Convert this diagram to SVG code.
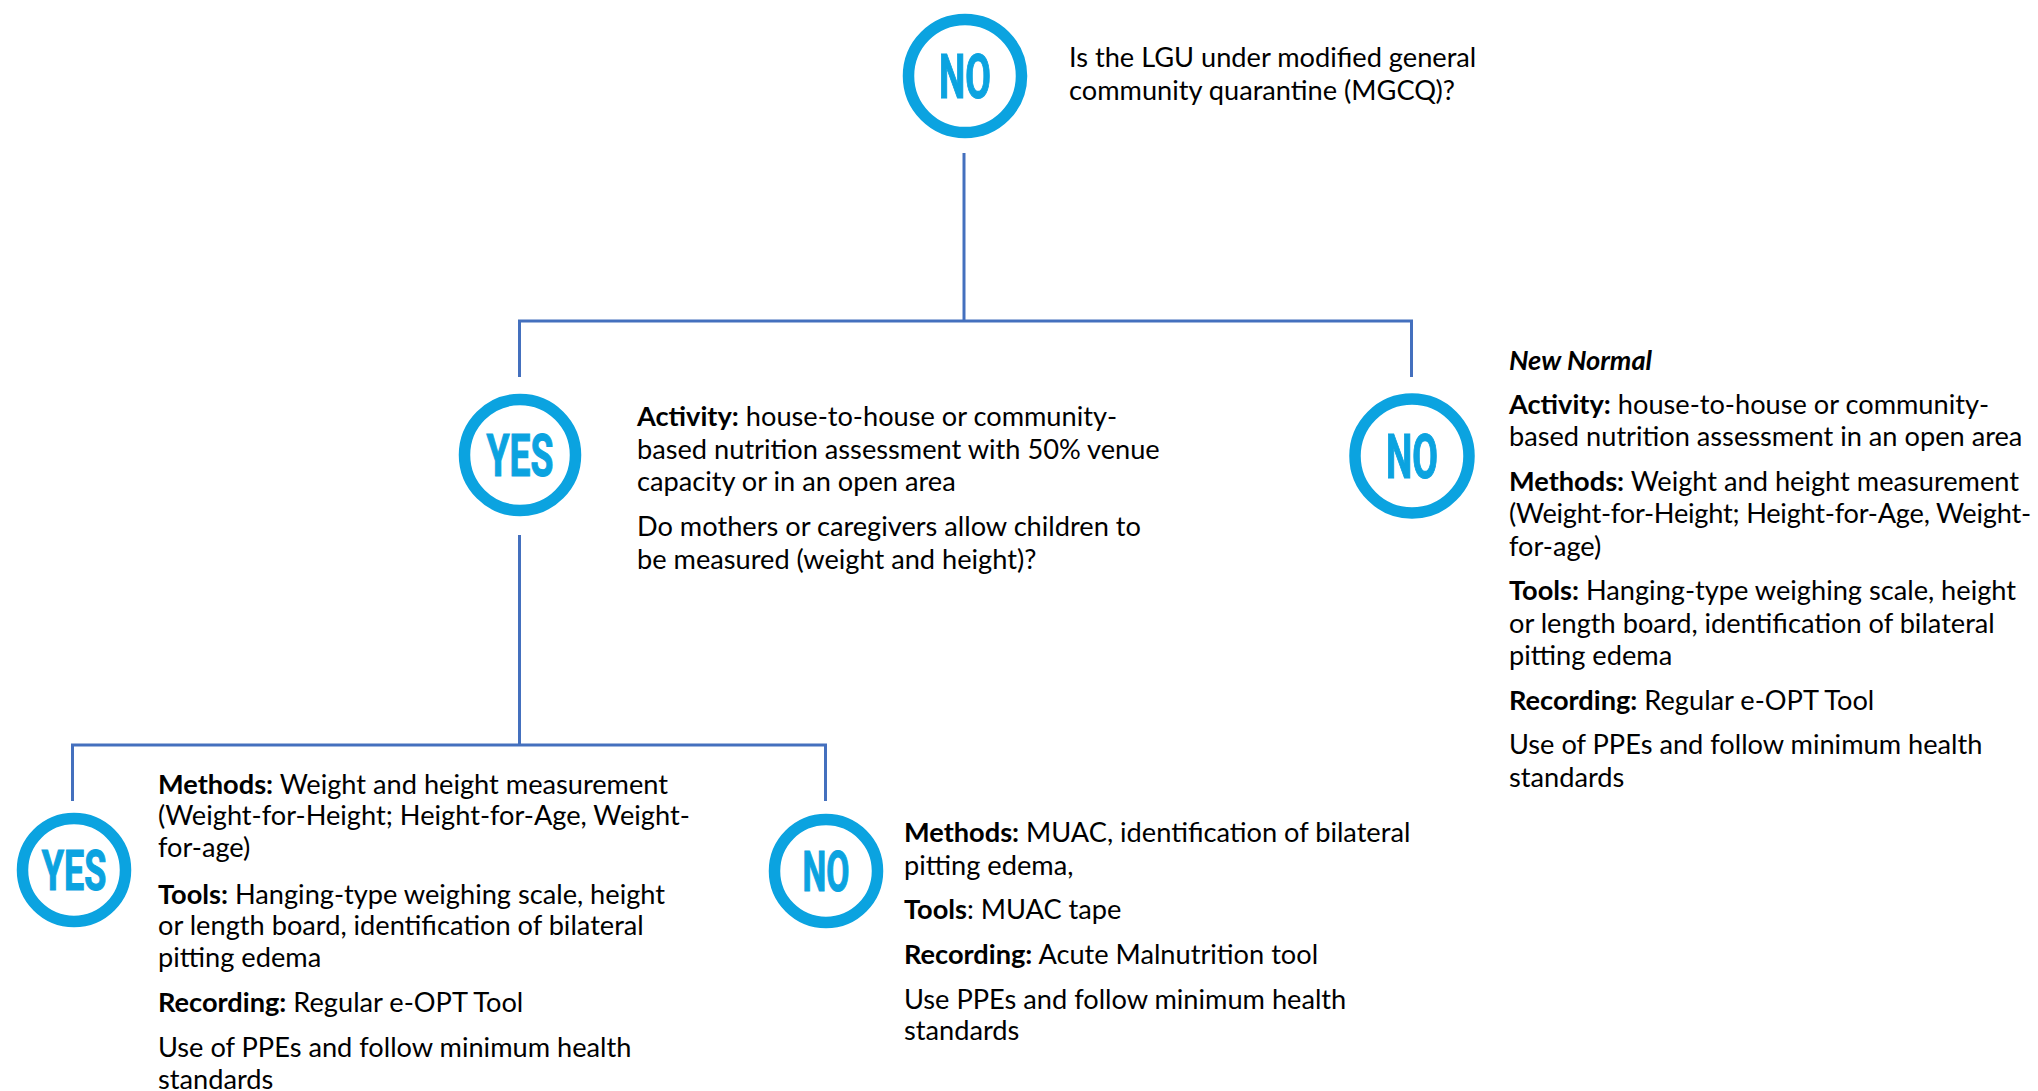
<svg xmlns="http://www.w3.org/2000/svg" width="2038" height="1091" viewBox="0 0 2038 1091">
<defs>
<style>
.ring{fill:none;stroke:#0BA3E0;stroke-width:11.5}
.lbl{font-family:Roboto,"Liberation Sans",sans-serif;font-weight:700;fill:#0BA3E0;stroke:#0BA3E0;stroke-width:1.2;text-anchor:middle}
.t{font-family:Lato,"Open Sans",sans-serif;font-size:27.2px;fill:#000}
.b{font-weight:700}
.bi{font-weight:700;font-style:italic}
.conn{fill:none;stroke:#4470BE;stroke-width:3}
</style>
</defs>
<rect width="2038" height="1091" fill="#fff"/>
<g id="connectors">
<path class="conn" d="M964,153 V321"/>
<path class="conn" d="M519.5,377 V321 H1411.5 V377"/>
<path class="conn" d="M519.5,535 V745"/>
<path class="conn" d="M72.5,801 V745 H825.5 V801"/>
</g>
<g id="q-mgcq">
<circle class="ring" cx="965" cy="76" r="56.5"/>
<text class="lbl" font-size="62" transform="translate(965,98) scale(0.6,1)">NO</text>
<text class="t" x="1069" y="67">Is the LGU under modified general</text>
<text class="t" x="1069" y="100">community quarantine (MGCQ)?</text>
</g>
<g id="yes-mgcq">
<circle class="ring" cx="520" cy="455" r="55.5"/>
<text class="lbl" font-size="60" transform="translate(520,476) scale(0.62,1)">YES</text>
<text class="t" x="637" y="426"><tspan class="b">Activity:</tspan> house-to-house or community-</text>
<text class="t" x="637" y="458.5">based nutrition assessment with 50% venue</text>
<text class="t" x="637" y="491">capacity or in an open area</text>
<text class="t" x="637" y="536">Do mothers or caregivers allow children to</text>
<text class="t" x="637" y="568.5">be measured (weight and height)?</text>
</g>
<g id="no-mgcq">
<circle class="ring" cx="1412" cy="456" r="57"/>
<text class="lbl" font-size="62" transform="translate(1412,478) scale(0.6,1)">NO</text>
<text class="t" x="1509" y="369.5"><tspan class="bi">New Normal</tspan></text>
<text class="t" x="1509" y="413.5"><tspan class="b">Activity:</tspan> house-to-house or community-</text>
<text class="t" x="1509" y="446">based nutrition assessment in an open area</text>
<text class="t" x="1509" y="490.5"><tspan class="b">Methods:</tspan> Weight and height measurement</text>
<text class="t" x="1509" y="523" textLength="522" lengthAdjust="spacing">(Weight-for-Height; Height-for-Age, Weight-</text>
<text class="t" x="1509" y="555.5">for-age)</text>
<text class="t" x="1509" y="600"><tspan class="b">Tools:</tspan> Hanging-type weighing scale, height</text>
<text class="t" x="1509" y="632.5">or length board, identification of bilateral</text>
<text class="t" x="1509" y="665">pitting edema</text>
<text class="t" x="1509" y="709.5"><tspan class="b">Recording:</tspan> Regular e-OPT Tool</text>
<text class="t" x="1509" y="754">Use of PPEs and follow minimum health</text>
<text class="t" x="1509" y="786.5">standards</text>
</g>
<g id="yes-measured">
<circle class="ring" cx="74" cy="870" r="51.5"/>
<text class="lbl" font-size="56" transform="translate(74,890) scale(0.64,1)">YES</text>
<text class="t" x="158" y="793.5"><tspan class="b">Methods:</tspan> Weight and height measurement</text>
<text class="t" x="158" y="825">(Weight-for-Height; Height-for-Age, Weight-</text>
<text class="t" x="158" y="857">for-age)</text>
<text class="t" x="158" y="903.5"><tspan class="b">Tools:</tspan> Hanging-type weighing scale, height</text>
<text class="t" x="158" y="935">or length board, identification of bilateral</text>
<text class="t" x="158" y="967">pitting edema</text>
<text class="t" x="158" y="1011.5"><tspan class="b">Recording:</tspan> Regular e-OPT Tool</text>
<text class="t" x="158" y="1056.5">Use of PPEs and follow minimum health</text>
<text class="t" x="158" y="1088.5">standards</text>
</g>
<g id="no-measured">
<circle class="ring" cx="826" cy="871" r="51.5"/>
<text class="lbl" font-size="56" transform="translate(826,891) scale(0.6,1)">NO</text>
<text class="t" x="904" y="841.5"><tspan class="b">Methods:</tspan> MUAC, identification of bilateral</text>
<text class="t" x="904" y="875">pitting edema,</text>
<text class="t" x="904" y="918.5"><tspan class="b">Tools</tspan>: MUAC tape</text>
<text class="t" x="904" y="963.5"><tspan class="b">Recording:</tspan> Acute Malnutrition tool</text>
<text class="t" x="904" y="1008.5">Use PPEs and follow minimum health</text>
<text class="t" x="904" y="1040">standards</text>
</g>
</svg>
